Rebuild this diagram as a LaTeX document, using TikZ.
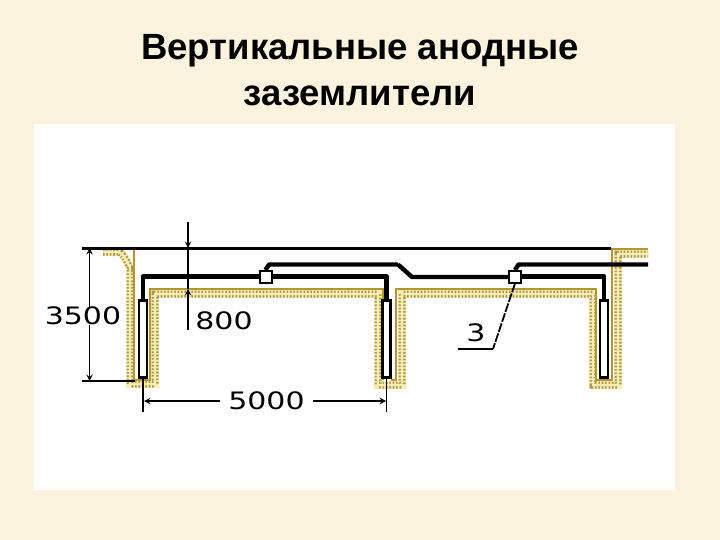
\documentclass[tikz,border=0pt]{standalone}
\usepackage{xcolor}
\usepackage{fontspec}
\setmainfont{Liberation Sans}
\newfontfamily\dimfont{DejaVu Sans}
\usetikzlibrary{shapes.geometric, arrows}
\definecolor{paper}{HTML}{FBF3DD}
\definecolor{soilgold}{HTML}{B5952F}
\definecolor{soilpale}{HTML}{F6EDB0}
\definecolor{soildot}{HTML}{A89350}
\tikzstyle{title} = [font=\bfseries\fontsize{36.5}{46}\selectfont, align=center, text=black]
\tikzstyle{dimtext} = [font=\dimfont\fontsize{24}{24}\selectfont, xscale=1.25, inner sep=0pt]
\tikzstyle{joint} = [rectangle, minimum width=12pt, minimum height=12pt, inner sep=0pt, draw=black, line width=2pt, fill=white]
\tikzstyle{anode} = [rectangle, minimum width=8pt, minimum height=77pt, inner sep=0pt, draw=black, line width=2.2pt, fill=white]
\tikzstyle{cable} = [line width=4.4pt, line join=round]
\tikzstyle{line} = [line width=1.8pt]
\tikzstyle{ground} = [line width=3pt]
\tikzstyle{arrow} = [line width=1.8pt,->,>=stealth]
\tikzstyle{soilband} = [line width=8pt, soilpale]
\tikzstyle{soilhatch} = [line width=7pt, soildot, dash pattern=on 1.6pt off 1.8pt]
\tikzstyle{soilgap} = [line width=2.4pt, soilpale]
\tikzstyle{soilline} = [line width=1.8pt, soilgold]

\begin{document}
\begin{tikzpicture}[x=1pt,y=-1pt]
    \fill [paper] (0,0) rectangle (720,540);
    \fill [white] (34,124) rectangle (675,490);
    \node (title) [title] at (360,70) {Вертикальные анодные\\заземлители};

    % soil
    \foreach \style in {soilband, soilhatch, soilgap} {
        \draw [\style] (103,252) -- (118,252) to[out=0,in=-90] (130,265) -- (130,384) -- (155,384) -- (155,294) -- (378,294)
            -- (378,385) -- (402,385) -- (402,294) -- (593,294) -- (593,385) -- (618,385) -- (618,254) -- (648,254);
    }
    \draw [soilline] (113,248) -- (134,248) -- (134,380);
    \draw [soilline] (134,380) -- (150,380) -- (150,289) -- (383,289) -- (383,380);
    \draw [soilline] (391,380) -- (396,380) -- (396,289) -- (596,289) -- (596,380) -- (612,380) -- (612,249) -- (648,249);

    \coordinate (ground_left) at (82,248);
    \coordinate (ground_right) at (611,248);
    \coordinate (foot_left) at (82,381);
    \coordinate (foot_right) at (135,381);
    \coordinate (bend) at (398,264.5);
    \coordinate (kink) at (412,277);
    \coordinate (cable_end) at (648,264.5);
    \node (anode_left) [anode] at (143,339) {};
    \node (anode_mid) [anode] at (386.5,339) {};
    \node (anode_right) [anode] at (604,339) {};

    \draw [cable] (anode_left.north) |- (259,276.5);
    \draw [cable] (271,276.5) -- (386.5,276.5) -- (anode_mid.north);
    \draw [cable] (bend) -- (kink) -- (509,277);
    \draw [cable] (521,276.5) -- (604,276.5) -- (anode_right.north);
    \draw [cable] (265.5,270) -- (269,264.5) -- (bend);
    \draw [cable] (515,270) -- (518.5,264.5) -- (cable_end);
    \node (joint_left) [joint] at (265.5,276.5) {};
    \node (joint_right) [joint] at (515,276.5) {};

    \draw [ground] (ground_left) -- (ground_right);
    \draw [line, line width=2.2pt] (foot_left) -- (foot_right);

    % 3500
    \node (dim3500) [dimtext] at (83,316) {3500};
    \coordinate (dim3500_top) at (89.5,248);
    \coordinate (dim3500_bot) at (89.5,381);
    \draw [arrow] (dim3500.north -| dim3500_top) -- (dim3500_top);
    \draw [arrow] (dim3500.south -| dim3500_bot) -- (dim3500_bot);

    % 800
    \node (dim800) [dimtext] at (224,321) {800};
    \coordinate (dim800_start) at (188,222);
    \coordinate (dim800_top) at (188,248);
    \coordinate (dim800_bot) at (188,289);
    \coordinate (dim800_end) at (188,330);
    \draw [line] (dim800_top) -- (dim800_bot);
    \draw [arrow] (dim800_start) -- (dim800_top);
    \draw [arrow] (dim800_end) -- (dim800_bot);

    % 5000
    \node (dim5000) [dimtext] at (266.5,401) {5000};
    \coordinate (dim5000_left) at (144,401);
    \coordinate (dim5000_right) at (386,401);
    \draw [line] (anode_left.south) -- ++(0,33);
    \draw [line] (anode_mid.south) -- ++(0,33);
    \draw [arrow] (dim5000.west) ++(-8,0) -- (dim5000_left);
    \draw [arrow] (dim5000.east) ++(8,0) -- (dim5000_right);

    % leader
    \node (label3) [dimtext] at (476,333) {3};
    \coordinate (leader_knee) at (493,349);
    \coordinate (leader_end) at (458,349);
    \draw [line, dash pattern=on 9pt off 1.5pt] (joint_right.south) -- (leader_knee);
    \draw [line] (leader_knee) -- (leader_end);
\end{tikzpicture}
\end{document}
